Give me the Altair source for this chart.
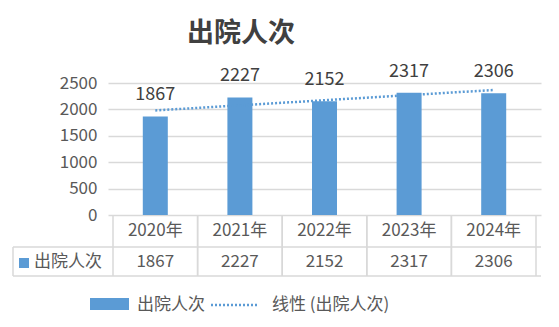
import altair as alt
import pandas as pd

# ---- data ----
years = ["2020年", "2021年", "2022年", "2023年", "2024年"]
values = [1867, 2227, 2152, 2317, 2306]
series_name = "出院人次"
trend_name = "线性 (出院人次)"
title_text = "出院人次"
y_ticks = [0, 500, 1000, 1500, 2000, 2500]

FONT = "Noto Sans CJK SC"
BLUE = "#5B9BD5"
GRID = "#d9d9d9"
TXT = "#595959"
DARK = "#404040"

df = pd.DataFrame({"year": years, "value": values, "idx": list(range(1, len(years) + 1))})
one = pd.DataFrame({"series": [series_name], "trend": [trend_name], "title": [title_text]})

xscale = alt.Scale(domain=[0.5, len(years) + 0.5], nice=False, zero=False)
yscale = alt.Scale(domain=[0, 2500], nice=False)
x = alt.X("idx:Q", scale=xscale, axis=None)
yaxis = alt.Axis(
    values=y_ticks, title=None, domain=False, ticks=False, labelPadding=11,
    labelFontSize=17, labelColor=TXT, labelFont=FONT, format="d",
    labelOverlap=False, gridColor=GRID, gridWidth=1.5, tickCount=6,
)
y = alt.Y("value:Q", scale=yscale, axis=yaxis)

base = alt.Chart(df)

bars = base.mark_bar(size=25, color=BLUE).encode(x=x, y=y)

labels = base.mark_text(dy=-21, fontSize=18, color=DARK, font=FONT, baseline="middle").encode(
    x=x, y=y, text="value:Q"
)

trend = (
    base.transform_regression("idx", "value", method="linear")
    .mark_line(color=BLUE, strokeDash=[2, 2], strokeWidth=2.5)
    .encode(x=x, y=y)
)

# ---- data table ----
vl = base.transform_calculate(xb="datum.idx - 0.5").mark_rule(color=GRID, strokeWidth=1.5).encode(
    x=alt.X("xb:Q", scale=xscale, axis=None), y=alt.value(132), y2=alt.value(193)
)
vr = base.transform_calculate(xb="datum.idx + 0.5").mark_rule(color=GRID, strokeWidth=1.5).encode(
    x=alt.X("xb:Q", scale=xscale, axis=None), y=alt.value(132), y2=alt.value(193)
)
oc = alt.Chart(one)
h1 = oc.mark_rule(color=GRID, strokeWidth=1.5).encode(x=alt.value(-95), x2=alt.value(433), y=alt.value(164))
h2 = oc.mark_rule(color=GRID, strokeWidth=1.5).encode(x=alt.value(-95), x2=alt.value(433), y=alt.value(193))
vleft = oc.mark_rule(color=GRID, strokeWidth=1.5).encode(x=alt.value(-95), y=alt.value(164), y2=alt.value(193))

year_txt = base.mark_text(fontSize=17, color=TXT, font=FONT, baseline="middle").encode(
    x=x, y=alt.value(148), text="year:N"
)
val_txt = base.mark_text(fontSize=17, color=TXT, font=FONT, baseline="middle").encode(
    x=x, y=alt.value(179), text="value:Q"
)
row_sw = oc.mark_rect(color=BLUE).encode(x=alt.value(-89), x2=alt.value(-79), y=alt.value(175), y2=alt.value(185))
row_lbl = oc.mark_text(fontSize=17, color=TXT, font=FONT, align="left", baseline="middle").encode(
    x=alt.value(-74), y=alt.value(179), text="series:N"
)

# ---- legend ----
leg_sw = oc.mark_rect(color=BLUE).encode(x=alt.value(-18), x2=alt.value(21), y=alt.value(215), y2=alt.value(227))
leg_t1 = oc.mark_text(fontSize=17, color=TXT, font=FONT, align="left", baseline="middle").encode(
    x=alt.value(29), y=alt.value(222), text="series:N"
)
leg_line = oc.mark_rule(color=BLUE, strokeDash=[2, 2], strokeWidth=2.5).encode(
    x=alt.value(103), x2=alt.value(150), y=alt.value(222)
)
leg_t2 = oc.mark_text(fontSize=17, color=TXT, font=FONT, align="left", baseline="middle").encode(
    x=alt.value(164), y=alt.value(222), text="trend:N"
)

# ---- title ----
title = oc.mark_text(fontSize=27, fontWeight="bold", color=DARK, font=FONT, align="center", baseline="middle").encode(
    x=alt.value(133), y=alt.value(-49), text="title:N"
)

chart = (
    alt.layer(
        bars, trend, labels, vl, vr, h1, h2, vleft, year_txt, val_txt, row_sw, row_lbl,
        leg_sw, leg_t1, leg_line, leg_t2, title,
    )
    .properties(
        width=433, height=132,
        autosize=alt.AutoSizeParams(type="none"),
        padding={"left": 108, "top": 83, "right": 18, "bottom": 112},
        background="white",
    )
    .configure_view(stroke=None)
)

chart.save("out.html", embed_options={"renderer": "svg", "actions": False})
